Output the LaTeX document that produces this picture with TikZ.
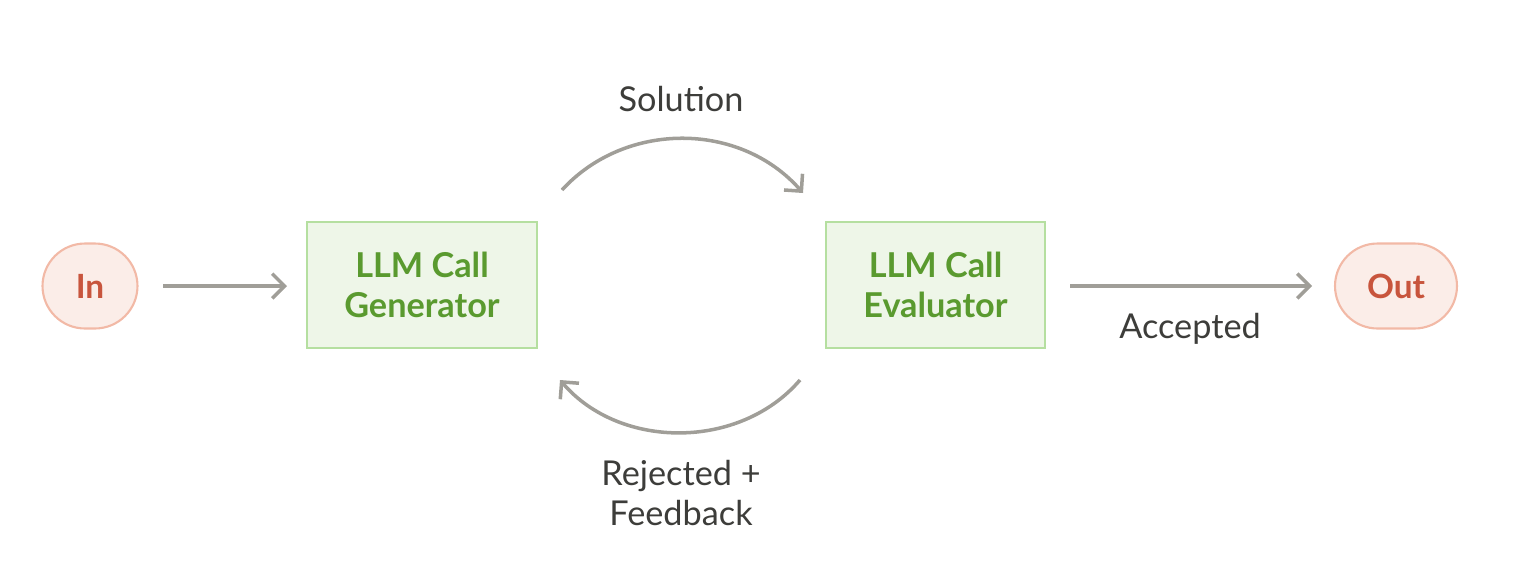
\documentclass[tikz,border=0pt]{standalone}
\usepackage{fontspec}
\setmainfont{Lato}
\usetikzlibrary{arrows.meta}
\definecolor{pillfill}{HTML}{FBEDE8}
\definecolor{pilldraw}{HTML}{F2B9A6}
\definecolor{pilltext}{HTML}{C8553D}
\definecolor{boxfill}{HTML}{EEF6E8}
\definecolor{boxdraw}{HTML}{B5DFA0}
\definecolor{boxtext}{HTML}{5A9A2F}
\definecolor{arr}{HTML}{A09E98}
\definecolor{lbl}{HTML}{3D3D3A}
\begin{document}
\begin{tikzpicture}[x=0.02cm,y=-0.02cm,
  pill/.style={draw=pilldraw,fill=pillfill,line width=1.2pt,rounded corners=0.85cm,minimum height=1.7cm,text=pilltext,font=\fontsize{19}{22}\selectfont\bfseries},
  box/.style={draw=boxdraw,fill=boxfill,line width=1.2pt,minimum width=4.6cm,minimum height=2.52cm,text=boxtext,align=center,font=\fontsize{19.5}{23}\selectfont\bfseries},
  conn/.style={draw=arr,line width=2pt,-{Straight Barb[length=7pt,width=14pt]}},
  lab/.style={text=lbl,font=\fontsize{19.5}{23}\selectfont,align=center}]
\useasboundingbox (0,0) rectangle (1539,576);
\node[pill,minimum width=1.9cm] (in) at (90,286) {In};
\node[box] (gen) at (422,285) {LLM Call\\Generator};
\node[box,minimum width=4.38cm] (eval) at (935.5,285) {LLM Call\\Evaluator};
\node[pill,minimum width=2.44cm] (out) at (1396,286) {Out};
\coordinate (a1) at (163,286); \coordinate (a2) at (287,286);
\coordinate (b1) at (1070,286); \coordinate (b2) at (1312,286);
\draw[conn] (a1) -- (a2);
\draw[conn] (b1) -- (b2);
\coordinate (t1) at (562,190); \coordinate (t2) at (803,193);
\draw[conn] (t1) .. controls (625,121) and (740,121) .. (t2);
\coordinate (u1) at (800,380); \coordinate (u2) at (560,380);
\draw[conn] (u1) .. controls (740,450) and (620,450) .. (u2);
\node[lab] (sol) at (681,99) {Solution};
\node[lab] (acc) at (1190,329) {Accepted};
\node[lab] (rej) at (681,493) {Rejected +\\Feedback};
\end{tikzpicture}
\end{document}
